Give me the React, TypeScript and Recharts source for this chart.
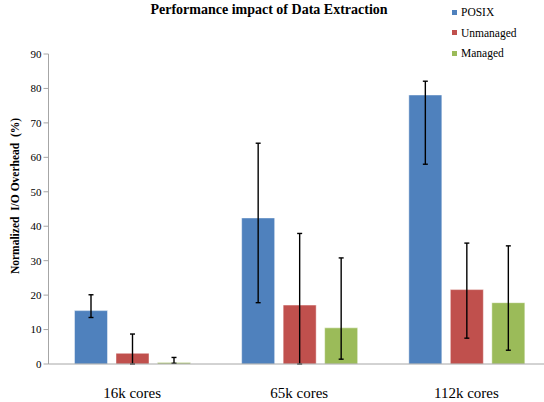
import { Bar, BarChart, ErrorBar, XAxis, YAxis } from 'recharts';

const categories = ['16k cores', '65k cores', '112k cores'];

const posix = [15.5, 42.4, 78.1];
const posixLow = [13.5, 17.8, 58.0];
const posixHigh = [20.1, 64.1, 82.1];

const unmanaged = [3.1, 17.1, 21.6];
const unmanagedLow = [0, 0, 7.5];
const unmanagedHigh = [8.7, 37.9, 35.1];

const managed = [0.4, 10.5, 17.8];
const managedLow = [0.2, 1.4, 4.0];
const managedHigh = [1.9, 30.8, 34.3];

const yTicks = [0, 10, 20, 30, 40, 50, 60, 70, 80, 90];

const SERIES = [
  { key: 'posix', name: 'POSIX', color: '#4F81BD' },
  { key: 'unmanaged', name: 'Unmanaged', color: '#C0504D' },
  { key: 'managed', name: 'Managed', color: '#9BBB59' },
];

const FONT = '"Liberation Serif", "Times New Roman", serif';

const data = categories.map((name, i) => ({
  name,
  posix: posix[i],
  posixErr: [posix[i] - posixLow[i], posixHigh[i] - posix[i]],
  unmanaged: unmanaged[i],
  unmanagedErr: [unmanaged[i] - unmanagedLow[i], unmanagedHigh[i] - unmanaged[i]],
  managed: managed[i],
  managedErr: [managed[i] - managedLow[i], managedHigh[i] - managed[i]],
}));

export default function App() {
  return (
    <div
      style={{
        position: 'absolute',
        left: 0,
        top: 0,
        width: 544,
        height: 402,
        overflow: 'hidden',
        background: '#fff',
        fontFamily: FONT,
      }}
    >
      <div
        style={{
          position: 'absolute',
          left: 0,
          width: 538,
          top: 2,
          textAlign: 'center',
          fontWeight: 'bold',
          fontSize: 14,
          fontFamily: FONT,
        }}
      >
        Performance impact of Data Extraction
      </div>
      <div
        style={{
          position: 'absolute',
          left: 15,
          top: 196,
          transform: 'translate(-50%, -50%) rotate(-90deg)',
          whiteSpace: 'pre',
          fontWeight: 'bold',
          fontSize: 11.5,
          fontFamily: FONT,
        }}
      >
        {'Normalized  I/O Overhead  (%)'}
      </div>
      <div
        style={{
          position: 'absolute',
          left: 452,
          top: 2,
          fontSize: 11.5,
          fontFamily: FONT,
          zIndex: 2,
        }}
      >
        {SERIES.map((s) => (
          <div
            key={s.key}
            style={{ display: 'flex', alignItems: 'center', height: 20.5 }}
          >
            <span
              style={{
                display: 'inline-block',
                width: 5,
                height: 5,
                background: s.color,
                marginRight: 4,
              }}
            />
            {s.name}
          </div>
        ))}
      </div>
      <BarChart
        width={552}
        height={402}
        data={data}
        margin={{ top: 54, right: 2, left: 0, bottom: 8 }}
        barSize={33}
        barGap={8.5}
        barCategoryGap={25}
        style={{ fontFamily: FONT }}
      >
        <XAxis
          dataKey='name'
          height={30}
          tickLine={false}
          tickMargin={17}
          stroke='#A6A6A6'
          tick={{ fontFamily: FONT, fontSize: 15, fill: '#000' }}
        />
        <YAxis
          width={48.5}
          domain={[0, 90]}
          ticks={yTicks}
          tickSize={5}
          tickMargin={2}
          stroke='#A6A6A6'
          tick={{ fontFamily: FONT, fontSize: 11, fill: '#000' }}
        />
        {SERIES.map((s) => (
          <Bar
            key={s.key}
            dataKey={s.key}
            name={s.name}
            fill={s.color}
            stroke='#ffffff'
            strokeOpacity={0.45}
            isAnimationActive={false}
          >
            <ErrorBar
              dataKey={`${s.key}Err`}
              width={2.5}
              stroke='#000'
              strokeWidth={1.4}
              direction='y'
            />
          </Bar>
        ))}
      </BarChart>
    </div>
  );
}
